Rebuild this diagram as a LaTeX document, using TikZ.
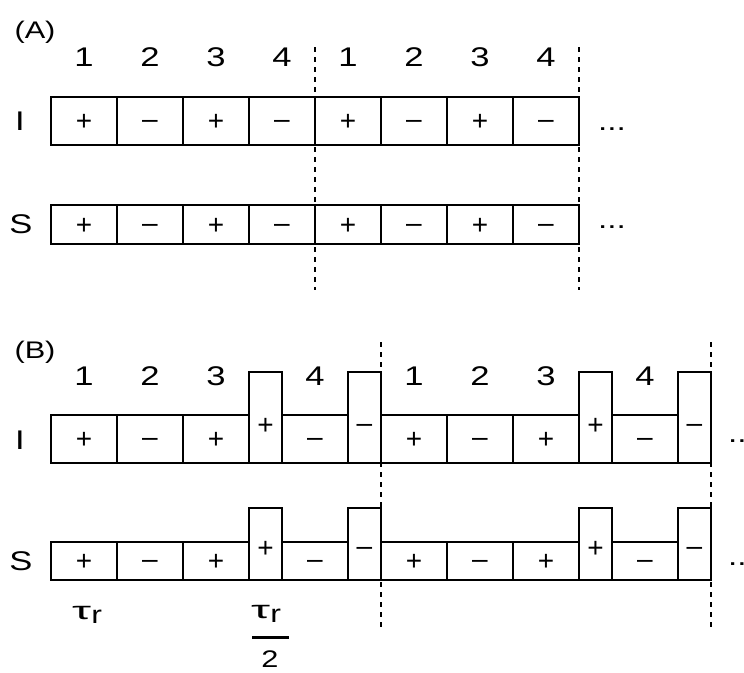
\documentclass[tikz,border=0pt]{standalone}
\usepackage{fontspec}
\setmainfont{Liberation Sans}[FakeStretch=1.28]
\newfontfamily\signfont{Liberation Sans}
\usepackage{graphicx}
\newcommand\mytaur{\scalebox{1.5}[1]{τ}\kern0.3pt\raisebox{-4.5pt}{r}}
\newcommand\mymi{\raisebox{2.2pt}{–}}
\begin{document}
\begin{tikzpicture}[x=1pt,y=-1pt,
  lw/.style={line width=2.6pt},
  cell/.style={draw, lw, inner sep=0pt, outer sep=0pt, minimum width=66pt,
    text height=19.6pt, text depth=0pt, font=\signfont\fontsize{28}{32}\selectfont},
  tall/.style={cell, minimum width=33pt},
  txt/.style={inner sep=0pt, font=\fontsize{27}{32}\selectfont},
  paneltxt/.style={inner sep=0pt, font=\fontsize{24}{28}\selectfont},
  sign/.style={inner sep=0pt, text height=19.6pt, text depth=0pt, font=\signfont\fontsize{28}{32}\selectfont},
  dotstxt/.style={inner sep=0pt, anchor=base west, font=\fontsize{26}{30}\selectfont},
  taustyle/.style={inner sep=0pt, anchor=base west, font=\fontsize{25}{29}\selectfont},
  sepline/.style={line width=2.4pt, dash pattern=on 5pt off 5pt},
]
\useasboundingbox (0,0) rectangle (744,672);

% ---------------- Panel A ----------------
\node[paneltxt] (labA) at (35,32) {(A)};
\foreach \i/\n in {1/1,2/2,3/3,4/4,5/1,6/2,7/3,8/4}
  \node[txt] (numA\i) at ({18+66*\i},57) {\n};
\node[txt] (rowAI) at (20,121) {I};
\node[txt] (rowAS) at (21,224) {S};
\foreach \i/\s in {1/+,2/\mymi,3/+,4/\mymi,5/+,6/\mymi,7/+,8/\mymi} {
  \node[cell, minimum height=48pt] (AI\i) at ({18+66*\i},121) {\s};
  \node[cell, minimum height=39pt] (AS\i) at ({18+66*\i},224.5) {\s};
}
\node[dotstxt] (dotsAI) at (598,130) {...};
\node[dotstxt] (dotsAS) at (598,228) {...};
\coordinate (dA1t) at (315,47);
\coordinate (dA1b) at (315,290);
\coordinate (dA2t) at (579,47);
\coordinate (dA2b) at (579,290);
\draw[sepline] (dA1t) -- (dA1b);
\draw[sepline] (dA2t) -- (dA2b);

% ---------------- Panel B ----------------
\node[paneltxt] (labB) at (35,352) {(B)};
\foreach \p/\s in {1/51,2/381} {
  \foreach \k/\n/\o in {1/1/33,2/2/99,3/3/165,4/4/264}
    \node[txt] (numB\p\k) at ({\s+\o},376) {\n};
}
\node[txt] (rowBI) at (20,440) {I};
\node[txt] (rowBS) at (21,561) {S};
\foreach \p/\s in {1/51,2/381} {
  \foreach \k/\sg/\o in {1/+/33,2/\mymi/99,3/+/165,4/\mymi/264} {
    \node[cell, minimum height=48pt] (BI\p\k) at ({\s+\o},439) {\sg};
    \node[cell, minimum height=38pt] (BS\p\k) at ({\s+\o},561) {\sg};
  }
  \foreach \k/\sg/\o in {1/+/214.5,2/\mymi/313.5} {
    \node[tall, minimum height=91pt] (BIt\p\k) at ({\s+\o},417.5) {};
    \node[sign] (BItl\p\k) at ({\s+\o},425) {\sg};
    \node[tall, minimum height=72pt] (BSt\p\k) at ({\s+\o},544) {};
    \node[sign] (BStl\p\k) at ({\s+\o},548) {\sg};
  }
}
\node[dotstxt] (dotsBI) at (728,442) {...};
\node[dotstxt] (dotsBS) at (728,565) {...};
\coordinate (dB1t) at (381,342);
\coordinate (dB1b) at (381,630);
\coordinate (dB2t) at (711,342);
\coordinate (dB2b) at (711,630);
\draw[sepline] (dB1t) -- (dB1b);
\draw[sepline] (dB2t) -- (dB2b);

% tau labels
\node[taustyle] (tau1) at (72,619) {\mytaur};
\node[taustyle] (tau2num) at (251,618) {\mytaur};
\node[inner sep=0pt, font=\fontsize{24}{28}\selectfont] (tau2den) at (270,659.5) {2};
\coordinate (fracL) at (252,637.5);
\coordinate (fracR) at (289,637.5);
\draw[line width=2.8pt] (fracL) -- (fracR);
\end{tikzpicture}
\end{document}
